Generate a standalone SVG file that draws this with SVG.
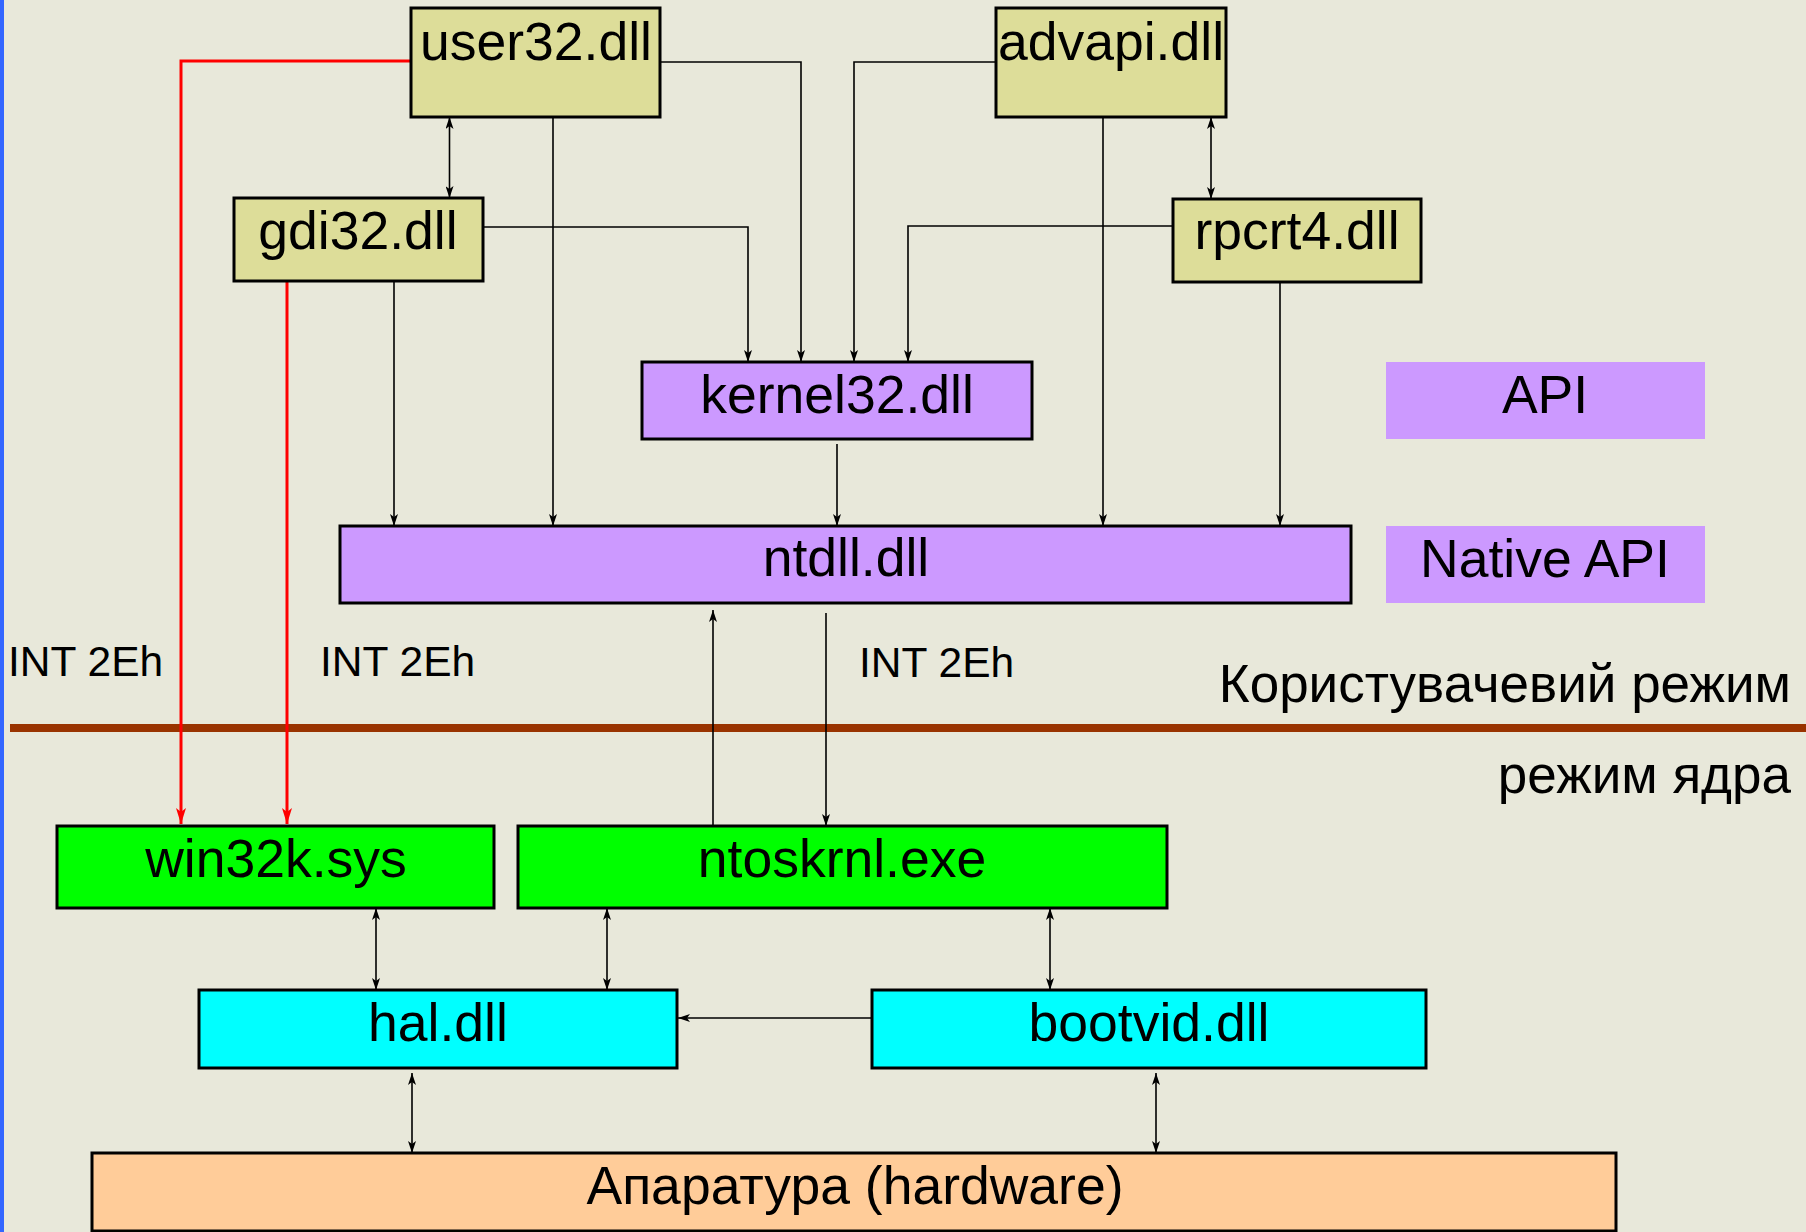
<svg xmlns="http://www.w3.org/2000/svg" width="1806" height="1232" viewBox="0 0 1806 1232">
<defs>
<marker id="ah" markerUnits="userSpaceOnUse" markerWidth="12" markerHeight="8" viewBox="0 0 12 8" refX="12" refY="4" orient="auto-start-reverse"><path d="M0,0 L12,4 L0,8 L3,4 z" fill="#000"/></marker>
<marker id="ahr" markerUnits="userSpaceOnUse" markerWidth="16" markerHeight="10" viewBox="0 0 16 10" refX="16" refY="5" orient="auto"><path d="M0,0 L16,5 L0,10 L4,5 z" fill="#ff0000"/></marker>
</defs>
<style>
text{font-family:"Liberation Sans",Arial,sans-serif;fill:#000}
.lbl{font-size:53.5px;text-anchor:middle}
.int{font-size:42.5px}
.mode{font-size:53px}
.box{stroke:#000;stroke-width:3}
.dll{fill:#DDDD99}
.api{fill:#CC99FF}
.krn{fill:#00FF00}
.hal{fill:#00FFFF}
.hw{fill:#FFCC99}
.c{fill:none;stroke:#000;stroke-width:1.6}
.r{fill:none;stroke:#ff0000;stroke-width:3}
</style>
<rect x="0" y="0" width="1806" height="1232" fill="#E8E8DA"/>
<rect x="0" y="0" width="4" height="1232" fill="#3366FF"/>
<line x1="10" y1="728" x2="1806" y2="728" stroke="#993300" stroke-width="8"/>

<g id="connectors">
<path class="r" d="M411,61 H181 V824" marker-end="url(#ahr)"/>
<path class="r" d="M287,281 V824" marker-end="url(#ahr)"/>
<path class="c" d="M449.5,117 V198" marker-start="url(#ah)" marker-end="url(#ah)"/>
<path class="c" d="M660,62 H801 V362" marker-end="url(#ah)"/>
<path class="c" d="M553,117 V526" marker-end="url(#ah)"/>
<path class="c" d="M483,227 H748 V362" marker-end="url(#ah)"/>
<path class="c" d="M394,281 V526" marker-end="url(#ah)"/>
<path class="c" d="M996,62 H854 V362" marker-end="url(#ah)"/>
<path class="c" d="M1103,117 V526" marker-end="url(#ah)"/>
<path class="c" d="M1211,117 V199" marker-start="url(#ah)" marker-end="url(#ah)"/>
<path class="c" d="M1173,226 H908 V362" marker-end="url(#ah)"/>
<path class="c" d="M1280,282 V526" marker-end="url(#ah)"/>
<path class="c" d="M837,444 V526" marker-end="url(#ah)"/>
<path class="c" d="M713,826 V610" marker-end="url(#ah)"/>
<path class="c" d="M826,613 V826" marker-end="url(#ah)"/>
<path class="c" d="M376,908 V990" marker-start="url(#ah)" marker-end="url(#ah)"/>
<path class="c" d="M607,908 V990" marker-start="url(#ah)" marker-end="url(#ah)"/>
<path class="c" d="M1050,908 V990" marker-start="url(#ah)" marker-end="url(#ah)"/>
<path class="c" d="M872,1018 H678" marker-end="url(#ah)"/>
<path class="c" d="M412,1073 V1153" marker-start="url(#ah)" marker-end="url(#ah)"/>
<path class="c" d="M1156,1073 V1153" marker-start="url(#ah)" marker-end="url(#ah)"/>
</g>

<g id="user32"><rect class="box dll" x="411" y="8" width="249" height="109"/><text class="lbl" x="536" y="60">user32.dll</text></g>
<g id="advapi"><rect class="box dll" x="996" y="8" width="230" height="109"/><text class="lbl" x="1111" y="60">advapi.dll</text></g>
<g id="gdi32"><rect class="box dll" x="234" y="198" width="249" height="83"/><text class="lbl" x="358" y="249">gdi32.dll</text></g>
<g id="rpcrt4"><rect class="box dll" x="1173" y="199" width="248" height="83"/><text class="lbl" x="1297" y="249">rpcrt4.dll</text></g>
<g id="kernel32"><rect class="box api" x="642" y="362" width="390" height="77"/><text class="lbl" x="837" y="413">kernel32.dll</text></g>
<g id="ntdll"><rect class="box api" x="340" y="526" width="1011" height="77"/><text class="lbl" x="846" y="576">ntdll.dll</text></g>
<g id="api-legend"><rect class="api" x="1386" y="362" width="319" height="77"/><text class="lbl" x="1545" y="413">API</text></g>
<g id="native-api-legend"><rect class="api" x="1386" y="526" width="319" height="77"/><text class="lbl" x="1545" y="577">Native API</text></g>
<g id="win32k"><rect class="box krn" x="57" y="826" width="437" height="82"/><text class="lbl" x="276" y="877">win32k.sys</text></g>
<g id="ntoskrnl"><rect class="box krn" x="518" y="826" width="649" height="82"/><text class="lbl" x="842" y="877">ntoskrnl.exe</text></g>
<g id="hal"><rect class="box hal" x="199" y="990" width="478" height="78"/><text class="lbl" x="438" y="1041">hal.dll</text></g>
<g id="bootvid"><rect class="box hal" x="872" y="990" width="554" height="78"/><text class="lbl" x="1149" y="1041">bootvid.dll</text></g>
<g id="hardware"><rect class="box hw" x="92" y="1153" width="1524" height="78"/><text class="lbl" x="855" y="1204">Апаратура (hardware)</text></g>

<g id="labels">
<text class="int" x="8" y="676">INT 2Eh</text>
<text class="int" x="320" y="676">INT 2Eh</text>
<text class="int" x="859" y="677">INT 2Eh</text>
<text class="mode" x="1791" y="702" text-anchor="end">Користувачевий режим</text>
<text class="mode" x="1791" y="793" text-anchor="end">режим ядра</text>
</g>
</svg>
